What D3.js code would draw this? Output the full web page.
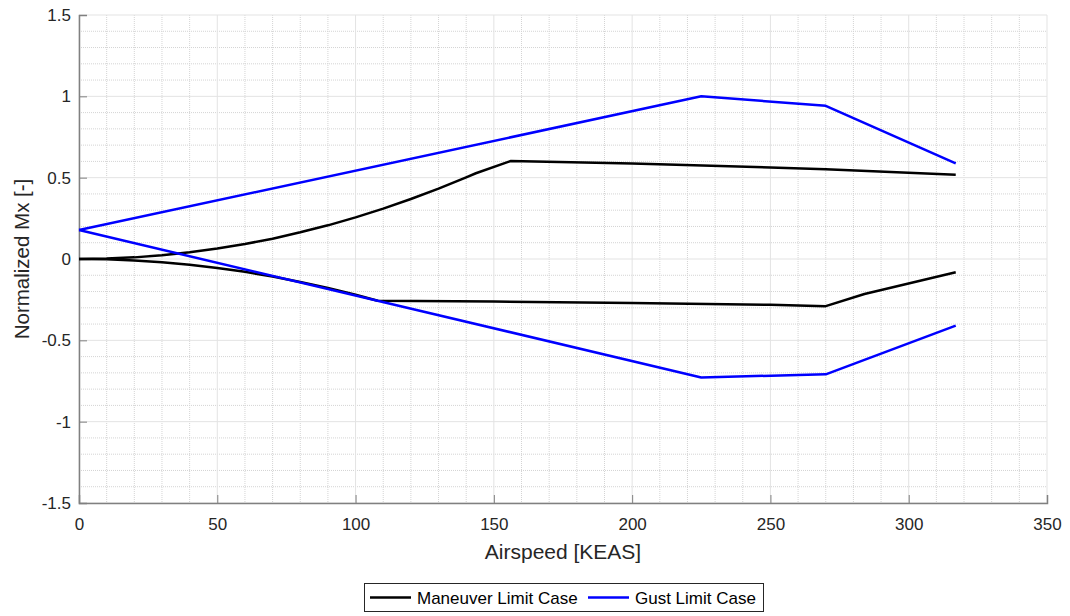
<!DOCTYPE html>
<html>
<head>
<meta charset="utf-8">
<script src="https://cdn.jsdelivr.net/npm/d3@7"></script>
<style>
  html, body { margin: 0; padding: 0; background: #fff; }
  svg { display: block; font-family: "Liberation Sans", Arial, Helvetica, sans-serif; }
</style>
</head>
<body>
<svg id="chart" width="1070" height="616"></svg>
<script>
// Airspeed [KEAS] and normalized Mx for each limit-case envelope
const maneuverUpperSpeed = [0, 10, 20, 30, 40, 50, 60, 70, 80, 90, 100, 110, 120, 130, 140, 143.5, 156, 200, 250, 270, 317];
const maneuverUpperMx    = [0, 0.003, 0.010, 0.023, 0.041, 0.064, 0.092, 0.125, 0.164, 0.207, 0.256, 0.310, 0.369, 0.433, 0.502, 0.527, 0.602, 0.587, 0.563, 0.551, 0.518];

const maneuverLowerSpeed = [0, 10, 20, 30, 40, 50, 60, 70, 80, 90, 100, 108, 150, 200, 250, 270, 284, 317];
const maneuverLowerMx    = [0, -0.002, -0.009, -0.020, -0.035, -0.055, -0.079, -0.108, -0.141, -0.178, -0.220, -0.257, -0.262, -0.270, -0.282, -0.290, -0.215, -0.082];

const gustUpperSpeed = [0, 225, 270, 317];
const gustUpperMx    = [0.178, 1.0, 0.942, 0.588];

const gustLowerSpeed = [0, 225, 270, 317];
const gustLowerMx    = [0.178, -0.728, -0.709, -0.41];

const xTicks = [0, 50, 100, 150, 200, 250, 300, 350];
const yTicks = [-1.5, -1, -0.5, 0, 0.5, 1, 1.5];
const yTickLabels = ["-1.5", "-1", "-0.5", "0", "0.5", "1", "1.5"];

const legendNames = ["Maneuver Limit Case", "Gust Limit Case"];
const seriesColors = ["#000000", "#0000ff"];

const svg = d3.select("#chart");
const plotLeft = 79, plotRight = 1047, plotTop = 15, plotBottom = 503;

const x = d3.scaleLinear().domain([0, 350]).range([plotLeft, plotRight]);
const y = d3.scaleLinear().domain([-1.5, 1.5]).range([plotBottom, plotTop]);

const axisColor = "#808080";
const textColor = "#262626";

// Minor grid (dotted)
const g = svg.append("g");
const minorX = d3.range(0, 351, 10).filter(v => v % 50 !== 0);
const minorY = d3.range(-15, 16, 1).filter(v => v % 5 !== 0).map(v => v / 10);
g.selectAll(".mx").data(minorX).join("line")
  .attr("x1", d => x(d)).attr("x2", d => x(d)).attr("y1", plotTop).attr("y2", plotBottom)
  .attr("stroke", "#d4d4d4").attr("stroke-width", 1).attr("stroke-dasharray", "1,1");
g.selectAll(".my").data(minorY).join("line")
  .attr("y1", d => y(d)).attr("y2", d => y(d)).attr("x1", plotLeft).attr("x2", plotRight)
  .attr("stroke", "#d4d4d4").attr("stroke-width", 1).attr("stroke-dasharray", "1,1");

// Major grid
g.selectAll(".Mx").data(xTicks).join("line")
  .attr("x1", d => x(d)).attr("x2", d => x(d)).attr("y1", plotTop).attr("y2", plotBottom)
  .attr("stroke", "#e3e3e3").attr("stroke-width", 1);
g.selectAll(".My").data(yTicks).join("line")
  .attr("y1", d => y(d)).attr("y2", d => y(d)).attr("x1", plotLeft).attr("x2", plotRight)
  .attr("stroke", "#e3e3e3").attr("stroke-width", 1);

// Axes with inward ticks
const xAxis = svg.append("g").attr("transform", `translate(0,${plotBottom})`)
  .call(d3.axisBottom(x).tickValues(xTicks).tickSize(-8).tickPadding(15).tickFormat(d3.format("d")));
const yAxis = svg.append("g").attr("transform", `translate(${plotLeft},0)`)
  .call(d3.axisLeft(y).tickValues(yTicks).tickSize(-8).tickPadding(8).tickFormat((d, i) => yTickLabels[i]));
[xAxis, yAxis].forEach(a => {
  a.select(".domain").attr("stroke", axisColor).attr("stroke-width", 1.5);
  a.selectAll(".tick line").attr("stroke", axisColor).attr("stroke-width", 1);
  a.selectAll(".tick text").attr("fill", textColor).attr("font-size", 17)
    .attr("font-family", "'Liberation Sans', Arial, sans-serif");
});

// Axis titles
svg.append("text").attr("x", (plotLeft + plotRight) / 2).attr("y", 559)
  .attr("text-anchor", "middle").attr("fill", textColor).attr("font-size", 21)
  .text("Airspeed [KEAS]");
svg.append("text").attr("transform", `translate(29,${(plotTop + plotBottom) / 2}) rotate(-90)`)
  .attr("text-anchor", "middle").attr("fill", textColor).attr("font-size", 20.5)
  .text("Normalized Mx [-]");

// Envelope lines
const line = d3.line().x(d => x(d[0])).y(d => y(d[1]));
const series = [
  { sp: maneuverUpperSpeed, mx: maneuverUpperMx, c: seriesColors[0] },
  { sp: maneuverLowerSpeed, mx: maneuverLowerMx, c: seriesColors[0] },
  { sp: gustUpperSpeed, mx: gustUpperMx, c: seriesColors[1] },
  { sp: gustLowerSpeed, mx: gustLowerMx, c: seriesColors[1] }
];
series.forEach(s => {
  svg.append("path").datum(s.sp.map((v, i) => [v, s.mx[i]]))
    .attr("d", line).attr("fill", "none").attr("stroke", s.c)
    .attr("stroke-width", 2.5).attr("stroke-linejoin", "round");
});

// Legend
const lg = svg.append("g");
lg.append("rect").attr("x", 364.5).attr("y", 583.5).attr("width", 399).attr("height", 28)
  .attr("fill", "#fff").attr("stroke", "#262626").attr("stroke-width", 1);
const legendX = [370, 588];
legendNames.forEach((name, i) => {
  lg.append("line").attr("x1", legendX[i]).attr("x2", legendX[i] + 41)
    .attr("y1", 597.5).attr("y2", 597.5).attr("stroke", seriesColors[i]).attr("stroke-width", 2.5);
  lg.append("text").attr("x", legendX[i] + 47).attr("y", 604)
    .attr("fill", "#000").attr("font-size", 17).text(name);
});
</script>
</body>
</html>
